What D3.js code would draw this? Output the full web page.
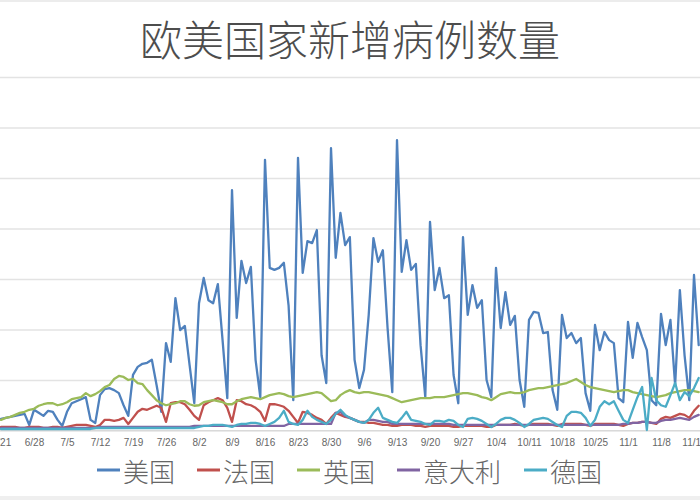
<!DOCTYPE html>
<html><head><meta charset="utf-8">
<script src="https://cdn.jsdelivr.net/npm/d3@7"></script>
<style>body{margin:0;background:#fff}</style>
</head><body>
<svg id="c" width="700" height="500"></svg>
<script>
// ---------- data ----------
const startDate = new Date(2020, 5, 21);   // 6/21
const endDate = new Date(2020, 10, 17);    // exclusive -> last 11/16
const dates = d3.timeDay.range(startDate, endDate);

const seriesNames = ["美国", "法国", "英国", "意大利", "德国"];
const seriesColors = ["#4F81BD", "#C0504D", "#9BBB59", "#8064A2", "#4BACC6"];

const usa = [
  2300,2500,2700,2900,3100,3300,1100,4100,3500,2900,
  3900,3700,2100,900,3700,5400,5800,6200,6600,2100,
  1500,7000,8200,8400,8000,7400,5000,2900,11000,12600,
  13200,13400,14000,9000,3700,17300,13600,26200,19900,20700,
  13000,5400,25200,30200,25800,25200,29000,17900,6400,47600,
  22300,33600,29200,32400,14000,6600,53600,32200,31800,32200,
  33200,24800,6000,54000,31200,37500,37100,39700,14900,9400,
  55900,34200,43100,36700,38300,14000,8400,12000,22900,38100,
  33400,35700,20300,7600,57500,31400,37700,31800,33000,16900,
  6600,41300,27800,32200,26200,26800,11000,5400,38300,22900,
  28800,24300,25800,10000,6600,32200,20300,27400,20900,22700,
  10000,4700,21900,23500,23300,19300,19500,8000,4100,22900,
  18300,19300,17300,18300,7400,3900,20900,15900,19500,17900,
  17300,6400,5600,21500,14400,21300,18500,15900,6000,5000,
  23100,16900,21900,9000,27800,14900,6000,30800,16900
];
const france = [
  700,700,700,700,500,500,700,700,700,500,
  500,700,700,500,700,900,1100,1100,1100,900,
  700,1100,2100,2100,1900,2100,2500,1300,2500,3700,
  4300,4100,4500,4900,4500,1700,5400,5600,5600,5200,
  4100,2900,2100,5000,5600,6000,6400,6000,4500,1700,
  6000,5800,5200,5000,4500,3700,1900,5200,5200,5000,
  4700,3900,2700,1500,3700,3500,3100,2500,2100,1300,
  2500,3500,3100,2700,2500,2100,1700,1700,1500,1500,
  1300,1100,1100,900,900,1100,1100,1100,900,900,
  700,900,900,900,900,900,700,700,900,900,
  900,900,900,700,700,1100,1100,1100,1100,1300,
  1100,900,1100,1300,1300,1300,1300,1100,900,1300,
  1300,1300,1300,1300,1100,900,1300,1300,1300,1300,
  1300,1100,900,1300,1500,1500,1700,1700,1500,1300,
  2300,2700,2500,2900,3300,3100,2500,3900,4900
];
const uk = [
  2100,2500,2700,3100,3500,3700,4100,4300,4900,5200,
  5400,5400,5000,5200,5600,6200,6400,6600,7400,6800,
  7200,7800,8600,9000,10200,10800,10600,10000,10200,9400,
  9200,8000,7000,6000,5400,5000,5200,5400,5800,5800,
  5200,4900,5000,5600,5800,6000,5800,5600,5200,5200,
  5800,6200,6400,6600,6400,6200,6600,7000,7200,7400,
  7200,6800,6600,6800,7000,7200,7400,7600,7400,6600,
  5800,6000,7000,7600,8000,7600,7400,7600,7600,7400,
  7200,7000,6800,6400,6000,5600,5800,6000,6200,6400,
  6400,6400,6600,6600,6600,6800,7000,7200,7400,7400,
  7200,7000,6600,6400,6000,6600,7200,7400,7600,7400,
  7400,7600,8000,8200,8400,8400,8600,8800,9000,9200,
  9400,9800,10200,9600,9000,8600,8400,8200,8000,7800,
  7600,7800,8000,8000,7600,7400,7200,7000,6800,6600,
  6800,7000,7400,7600,7800,8000,8000,7800,7600
];
const italy = [
  500,500,500,500,500,500,500,500,500,500,
  500,500,500,500,500,500,500,500,500,500,
  500,700,700,700,700,700,700,700,700,700,
  700,700,700,700,700,700,700,700,700,700,
  700,900,900,900,900,900,900,900,900,900,
  900,900,900,900,900,900,900,900,900,900,
  900,1300,1300,1300,1300,1300,1300,1300,1300,1300,
  1300,3500,3700,2900,2500,2100,1700,1500,2100,2100,
  1900,1700,1700,1300,1300,1300,1300,1300,1300,1300,
  1300,1300,1300,1300,1300,1300,1100,1100,1100,1100,
  1100,1100,1100,1100,1100,1100,1100,1100,1100,1100,
  1100,1100,1100,1100,1100,1100,1100,1100,1100,1100,
  1100,1100,1100,1100,1100,1100,1100,1100,1100,1100,
  1100,1100,1300,1300,1500,1500,1700,1700,1500,1500,
  1900,2100,2100,2300,2500,2300,2100,2700,3100
];
const germany = [
  300,300,300,300,300,300,300,300,300,300,
  300,300,300,300,300,300,300,300,300,300,
  500,500,500,500,500,500,500,500,500,500,
  500,500,500,500,500,500,500,500,500,500,
  500,500,700,900,900,1100,1100,1100,900,700,
  1100,1300,1300,1500,1500,1300,900,1300,1700,2500,
  3900,1700,1300,1100,2100,3900,2700,2100,1700,1300,
  2100,3300,4100,3100,2500,2100,1700,1500,2100,3500,
  4500,2500,2100,1700,1500,2500,3700,2100,1900,1700,
  1300,1100,1900,1900,1700,2100,1900,1100,700,2300,
  2500,2300,1900,1300,700,1300,2100,2500,2500,2100,
  1500,700,1300,2100,2300,2500,2300,1700,1100,700,
  2900,3700,3700,3500,2500,900,2100,4700,5800,5200,
  5800,3900,2100,1500,4100,6600,8600,100,10400,6000,
  5000,4700,7000,9400,6000,7600,6800,8400,10400
];
const seriesValues = [usa, france, uk, italy, germany];
const yTicks = [0,10000,20000,30000,40000,50000,60000,70000];
const xTickEvery = 7;
const titleText = "欧美国家新增病例数量";

// ---------- chart ----------
const svg = d3.select("#c");
svg.append("rect").attr("width",700).attr("height",500).attr("fill","#fff");
svg.append("rect").attr("x",0).attr("y",0).attr("width",700).attr("height",2).attr("fill","#ececec");
svg.append("rect").attr("x",0).attr("y",496).attr("width",700).attr("height",4).attr("fill","#efefef");

const x = d3.scaleLinear().domain([0,147]).range([1,694]);
const y = d3.scaleLinear().domain([0,70000]).range([430.5,77]);

// gridlines
const gy = svg.append("g").attr("transform","translate(-20,0)")
  .call(d3.axisLeft(y).tickValues(yTicks).tickSize(-760).tickFormat(""));
gy.select(".domain").remove();
gy.selectAll(".tick line").attr("stroke","#e3e3e3").attr("stroke-width",1.5);

// x axis
const tickIdx = d3.range(0, dates.length, xTickEvery);
const fmt = d => (d.getMonth()+1) + "/" + d.getDate();
const gx = svg.append("g").attr("transform","translate(0,430.5)")
  .call(d3.axisBottom(x).tickValues(tickIdx).tickFormat(i => fmt(dates[i])).tickSize(0).tickPadding(8));
gx.select(".domain").attr("stroke","#d9d9d9").attr("stroke-width",1.2).attr("d","M-10,0H710");
gx.selectAll("text").attr("fill","#666").attr("font-size","10px")
  .attr("font-family","'Liberation Sans', Arial, sans-serif");

// lines
const line = d3.line().x((d,i) => x(i)).y(d => y(d));
seriesValues.forEach((vals, k) => {
  svg.append("path").datum(vals)
    .attr("fill","none").attr("stroke",seriesColors[k])
    .attr("stroke-width",2.3).attr("stroke-linejoin","round").attr("stroke-linecap","round")
    .attr("d", line);
});

// title
svg.append("text").attr("x",350).attr("y",37).attr("text-anchor","middle")
  .attr("dominant-baseline","central")
  .attr("font-family","'Noto Sans CJK SC', sans-serif").attr("font-weight",300)
  .attr("font-size","42px").attr("fill","#4d4d4d").text(titleText);

// legend
const lg = svg.append("g");
let lx = 97;
const charW = 27;
seriesNames.forEach((name, k) => {
  lg.append("line").attr("x1",lx).attr("x2",lx+23).attr("y1",470).attr("y2",470)
    .attr("stroke",seriesColors[k]).attr("stroke-width",3);
  lg.append("text").attr("x",lx+26).attr("y",470).attr("dominant-baseline","central")
    .attr("font-family","'Noto Sans CJK SC', sans-serif").attr("font-weight",300)
    .attr("font-size","26px").attr("fill","#666").text(name);
  lx += 23 + 3 + name.length*charW + 20;
});
</script>
</body></html>
